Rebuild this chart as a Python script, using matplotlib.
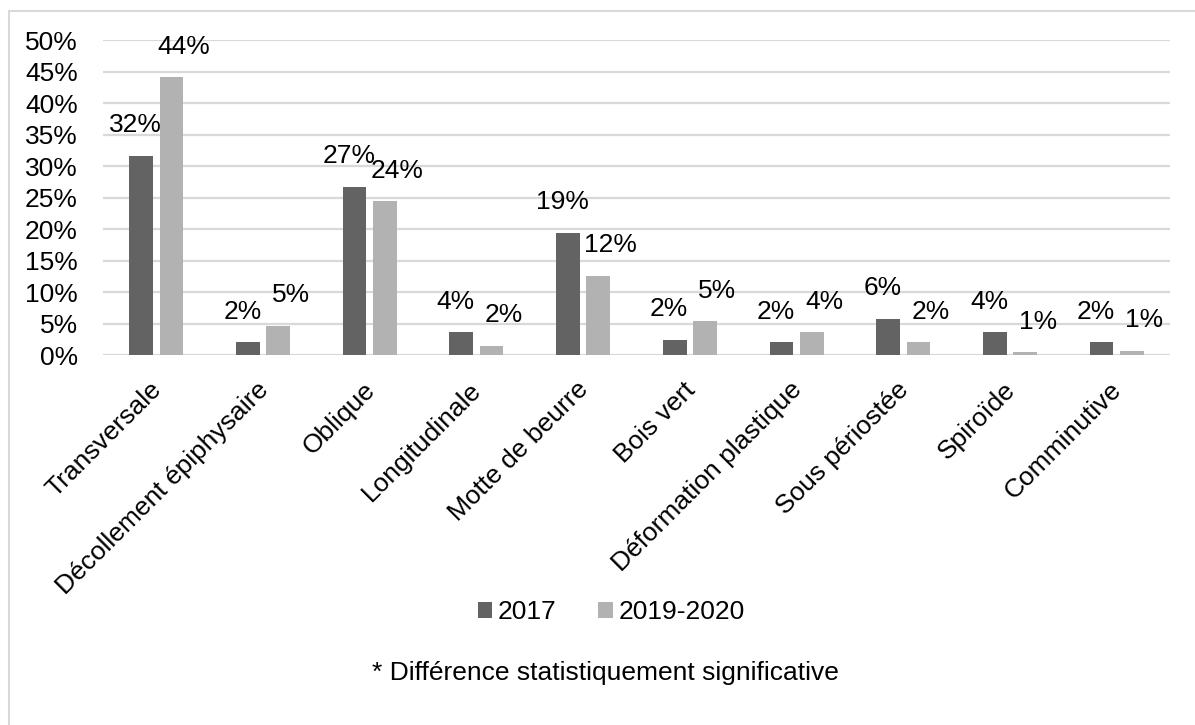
import matplotlib
matplotlib.use("Agg")
import matplotlib.pyplot as plt
import matplotlib.transforms as mtransforms
import numpy as np
from matplotlib.patches import Rectangle

categories = ["Transversale", "Décollement épiphysaire", "Oblique", "Longitudinale",
              "Motte de beurre", "Bois vert", "Déformation plastique", "Sous périostée",
              "Spiroïde", "Comminutive"]
series_names = ["2017", "2019-2020"]
values_2017 = [31.6, 2.06, 26.7, 3.65, 19.4, 2.5, 2.06, 5.76, 3.65, 2.06]
values_2019 = [44.1, 4.65, 24.4, 1.5, 12.6, 5.4, 3.65, 2.06, 0.47, 0.73]
labels_2017 = ["32%", "2%", "27%", "4%", "19%", "2%", "2%", "6%", "4%", "2%"]
labels_2019 = ["44%", "5%", "24%", "2%", "12%", "5%", "4%", "2%", "1%", "1%"]
yticks = [0, 5, 10, 15, 20, 25, 30, 35, 40, 45, 50]
footnote = "* Différence statistiquement significative"

plt.rcParams['font.family'] = ['Liberation Sans', 'DejaVu Sans']
FS = 19
c1, c2 = "#636363", "#b2b2b2"

fig = plt.figure(figsize=(11.95, 7.25), dpi=100)
ax = fig.add_axes([103/1195, 1-355.3/725, (1170-103)/1195, (355.3-40)/725])

x = np.arange(len(categories))
w = 0.222
gap = 0.062
b1 = ax.bar(x - (w+gap)/2, values_2017, w, color=c1, label=series_names[0], zorder=3)
b2 = ax.bar(x + (w+gap)/2, values_2019, w, color=c2, label=series_names[1], zorder=3)

for xi, v, lab in zip(x - (w+gap)/2, values_2017, labels_2017):
    ax.annotate(lab, (xi, v), xytext=(-4, 22), textcoords="offset points",
                ha="center", va="center", fontsize=FS, color="black")
for xi, v, lab in zip(x + (w+gap)/2, values_2019, labels_2019):
    ax.annotate(lab, (xi, v), xytext=(9, 22), textcoords="offset points",
                ha="center", va="center", fontsize=FS, color="black")

ax.set_xlim(-0.5, len(categories) - 0.5)
ax.set_ylim(0, 50)
ax.set_yticks(yticks)
ax.set_yticklabels([f"{t}%" for t in yticks], fontsize=FS)
ax.yaxis.grid(True, color="#d9d9d9", linewidth=1.6, zorder=0)
ax.set_axisbelow(True)
for s in ax.spines.values():
    s.set_visible(False)
ax.tick_params(axis="y", length=0, pad=18)
ax.tick_params(axis="x", length=0, pad=16)
ax.set_xticks(x)
ax.set_xticklabels(categories, rotation=45, ha="right", va="top", rotation_mode="anchor", fontsize=FS)
shift = mtransforms.ScaledTranslation(-7/100, 0, fig.dpi_scale_trans)
for lbl in ax.get_xticklabels():
    lbl.set_transform(lbl.get_transform() + shift)

leg = fig.legend(handles=[b1, b2], labels=series_names, loc="center",
                 bbox_to_anchor=(611/1195, 1-612/725), ncol=2, frameon=False,
                 fontsize=FS, handlelength=0.55, handleheight=0.55, handletextpad=0.2,
                 columnspacing=1.6)

fig.text(605/1195, 1-673/725, footnote, ha="center", va="center", fontsize=FS)

fig.patches.append(Rectangle((8.5/1195, -0.1), 1.2, 1-11/725+0.1, transform=fig.transFigure,
                             fill=False, edgecolor="#d9d9d9", linewidth=1.5))

fig.savefig("out.png", dpi=100)
